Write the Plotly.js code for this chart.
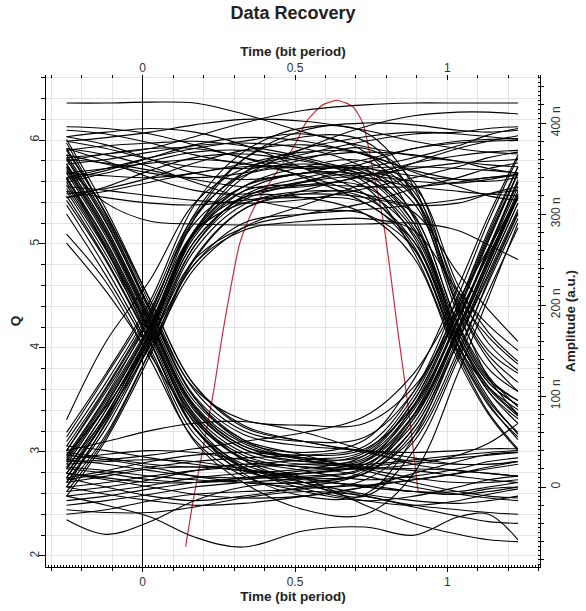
<!DOCTYPE html>
<html>
<head>
<meta charset="utf-8">
<script src="https://cdn.plot.ly/plotly-3.0.1.min.js"></script>
<style>
  html, body { margin: 0; padding: 0; background: #fff; }
  #chart { width: 586px; height: 611px; }
</style>
</head>
<body>
<div id="chart"></div>
<script>
// ---- Data ----
// Sample times (bit period) shared by every eye trace
const eyeTime = [-0.25, -0.12, 0.025, 0.17, 0.33, 0.53, 0.73, 0.89, 1.035, 1.135, 1.232];

// Amplitude (n a.u.) of each trace at eyeTime, grouped by bit pattern
const eyeHHH = [
  [422, 422, 423, 422, 410, 390, 374, 364, 358, 354, 352],
  [362, 366, 372, 385, 400, 414, 420, 422, 422, 422, 422],
  [385, 376, 360, 345, 338, 345, 360, 372, 378, 380, 381],
  [338, 348, 362, 376, 384, 380, 365, 348, 338, 336, 340],
  [372, 358, 340, 326, 322, 335, 356, 372, 380, 382, 383],
  [322, 328, 340, 356, 370, 376, 366, 346, 330, 320, 315],
  [352, 312, 292, 289, 288, 288, 289, 290, 282, 266, 250],
  [396, 394, 388, 376, 362, 352, 352, 362, 375, 387, 394],
  [318, 330, 348, 362, 366, 358, 344, 336, 334, 338, 344],
  [360, 356, 348, 338, 330, 330, 342, 356, 364, 368, 370],
  [345, 350, 356, 360, 356, 342, 322, 310, 312, 322, 330],
  [380, 384, 390, 398, 404, 402, 392, 380, 372, 368, 366],
  [330, 326, 320, 315, 312, 316, 328, 340, 352, 362, 368]
];
const eyeHHL = [
  [355, 360, 368, 375, 378, 372, 350, 300, 180, 122, 88],
  [380, 372, 360, 352, 350, 355, 345, 290, 165, 105, 70],
  [335, 345, 358, 368, 370, 360, 335, 275, 158, 98, 58],
  [392, 388, 378, 365, 355, 350, 348, 312, 198, 140, 105],
  [345, 342, 340, 345, 355, 368, 365, 325, 215, 158, 128],
  [370, 375, 378, 380, 375, 362, 340, 285, 170, 115, 90],
  [318, 325, 335, 345, 352, 350, 330, 258, 145, 82, 42],
  [365, 355, 345, 340, 345, 360, 372, 335, 210, 165, 135],
  [340, 350, 362, 372, 380, 388, 368, 296, 175, 118, 95],
  [385, 390, 394, 390, 376, 350, 322, 265, 155, 108, 78],
  [325, 318, 312, 310, 315, 322, 318, 302, 235, 195, 160],
  [358, 366, 372, 372, 362, 340, 312, 270, 165, 110, 80],
  [372, 365, 352, 335, 318, 305, 300, 262, 150, 92, 52]
];
const eyeLHH = [
  [20, 85, 170, 280, 345, 372, 385, 390, 388, 385, 382],
  [5, 70, 160, 265, 320, 340, 350, 352, 350, 348, 345],
  [40, 105, 185, 295, 360, 392, 400, 398, 392, 390, 392],
  [-10, 52, 145, 250, 305, 326, 342, 350, 356, 358, 360],
  [30, 95, 178, 282, 330, 345, 340, 330, 325, 322, 320],
  [74, 160, 228, 312, 350, 366, 380, 388, 390, 394, 396],
  [15, 75, 162, 250, 285, 300, 312, 328, 340, 350, 356],
  [45, 110, 192, 295, 345, 362, 368, 365, 358, 350, 345],
  [0, 58, 150, 240, 285, 310, 334, 356, 372, 380, 386],
  [25, 90, 175, 278, 325, 332, 330, 330, 335, 340, 342],
  [35, 88, 162, 245, 290, 300, 305, 310, 316, 322, 326],
  [10, 78, 172, 282, 340, 372, 396, 408, 412, 412, 410],
  [55, 122, 200, 298, 342, 352, 350, 342, 338, 340, 344]
];
const eyeLHL = [
  [20, 85, 172, 275, 325, 345, 340, 290, 170, 115, 90],
  [35, 100, 190, 300, 360, 385, 380, 320, 190, 130, 105],
  [5, 65, 158, 260, 310, 325, 318, 270, 155, 95, 60],
  [50, 115, 195, 290, 330, 345, 352, 318, 200, 145, 115],
  [10, 75, 165, 265, 315, 332, 330, 282, 165, 105, 75],
  [40, 108, 188, 280, 312, 318, 312, 262, 148, 90, 55],
  [-5, 55, 150, 252, 305, 322, 322, 278, 162, 110, 85],
  [28, 92, 176, 280, 330, 352, 358, 320, 205, 150, 125],
  [15, 80, 168, 270, 318, 335, 338, 298, 178, 120, 95],
  [60, 125, 205, 310, 368, 395, 390, 330, 195, 120, 80],
  [22, 78, 155, 245, 282, 292, 295, 282, 215, 178, 150],
  [0, 72, 168, 270, 318, 336, 345, 330, 222, 170, 138],
  [32, 98, 180, 280, 318, 318, 300, 252, 140, 80, 40]
];
const eyeLLL = [
  [20, 15, 8, 5, 8, 15, 20, 18, 12, 8, 5],
  [-5, 0, 8, 18, 25, 22, 12, 0, -8, -12, -15],
  [35, 30, 22, 12, 5, 0, 2, 8, 15, 22, 28],
  [-36, -52, -38, -15, 0, 5, 2, -5, -8, -2, 0],
  [10, 18, 28, 35, 38, 32, 20, 10, 5, 5, 8],
  [0, -8, -15, -20, -18, -10, 0, 8, 15, 20, 25],
  [25, 28, 30, 28, 20, 10, 0, -5, -8, -5, 0],
  [-15, -10, -2, 5, 10, 15, 22, 28, 32, 35, 38],
  [40, 50, 62, 70, 72, 60, 40, 25, 18, 15, 12],
  [-10, -20, -33, -55, -66, -48, -44, -53, -33, -30, -58],
  [30, 36, 40, 38, 30, 22, 20, 25, 35, 48, 70],
  [-25, -28, -28, -22, -12, -5, -10, -22, -32, -38, -40],
  [15, 8, 0, -8, -12, -10, 0, 15, 28, 36, 38]
];
const eyeLLH = [
  [15, 10, 5, 5, 10, 18, 25, 70, 170, 245, 320],
  [30, 25, 18, 12, 10, 12, 22, 80, 185, 260, 335],
  [-10, -5, 2, 10, 15, 20, 35, 95, 195, 275, 345],
  [5, 12, 20, 22, 18, 10, 15, 60, 160, 235, 305],
  [38, 32, 25, 22, 25, 30, 40, 100, 200, 282, 352],
  [-20, -15, -8, 0, 5, 10, 20, 65, 165, 240, 312],
  [22, 18, 12, 8, 5, 5, 18, 75, 175, 252, 325],
  [0, 5, 12, 18, 22, 25, 32, 85, 182, 262, 338],
  [45, 40, 32, 25, 18, 15, 28, 90, 192, 270, 345],
  [10, 0, -10, -15, -10, 0, 15, 55, 150, 225, 295],
  [28, 30, 35, 42, 50, 60, 78, 125, 205, 262, 318],
  [-30, -25, -15, -8, -5, -2, 8, 50, 145, 228, 300],
  [8, 15, 22, 28, 32, 35, 45, 105, 210, 292, 362]
];
const eyeHLL = [
  [335, 265, 170, 70, 22, -2, -15, -20, -15, -8, -2],
  [350, 280, 182, 88, 45, 30, 22, 20, 18, 15, 12],
  [320, 250, 160, 65, 25, 10, 0, -5, -5, 0, 5],
  [365, 295, 195, 100, 58, 45, 40, 32, 25, 25, 28],
  [310, 240, 152, 58, 18, 5, -8, -15, -18, -15, -10],
  [345, 275, 178, 84, 42, 28, 25, 30, 35, 38, 40],
  [278, 225, 140, 52, 12, -5, -15, -10, 0, 8, 12],
  [355, 285, 188, 94, 52, 35, 18, 5, -5, -10, -12],
  [328, 260, 168, 74, 32, 18, 8, 12, 20, 28, 32],
  [268, 215, 145, 72, 30, 10, -20, -40, -52, -58, -60],
  [372, 300, 205, 112, 68, 50, 38, 28, 25, 25, 28],
  [340, 262, 160, 64, 20, 2, -10, -20, -25, -28, -30],
  [382, 305, 205, 112, 66, 50, 40, 38, 40, 42, 42]
];
const eyeHLH = [
  [340, 270, 175, 80, 38, 25, 30, 80, 175, 250, 322],
  [355, 285, 185, 90, 48, 32, 35, 88, 182, 258, 330],
  [325, 255, 165, 65, 15, -10, -8, 55, 160, 240, 312],
  [362, 292, 192, 98, 52, 30, 25, 75, 170, 245, 318],
  [315, 248, 158, 64, 22, 8, 15, 65, 160, 232, 302],
  [348, 278, 180, 86, 42, 28, 38, 95, 195, 272, 345],
  [332, 262, 170, 76, 35, 22, 28, 78, 172, 248, 320],
  [370, 300, 200, 106, 62, 50, 55, 105, 200, 278, 352],
  [338, 268, 172, 78, 30, 5, -10, 40, 140, 215, 285],
  [352, 282, 183, 88, 45, 35, 42, 90, 185, 262, 335],
  [360, 290, 195, 108, 74, 68, 70, 110, 190, 255, 318],
  [300, 232, 148, 50, 5, -25, -30, 15, 125, 208, 290],
  [378, 298, 195, 98, 50, 38, 52, 118, 220, 298, 365]
];

// Q factor versus decision time (red curve)
const qTime = [0.141, 0.166, 0.199, 0.232, 0.264, 0.319, 0.362, 0.428, 0.484, 0.511, 0.538, 0.592, 0.641, 0.690, 0.723, 0.756, 0.789, 0.812, 0.834, 0.855, 0.877, 0.904];
const qValue = [2.09, 2.54, 3.05, 3.57, 4.17, 5.01, 5.33, 5.64, 5.88, 6.02, 6.18, 6.34, 6.38, 6.32, 6.16, 5.71, 5.23, 4.75, 4.24, 3.79, 3.31, 2.62];

// Axis tick labels
const timeTickVals = [0, 0.5, 1];
const timeTickText = ['0', '0.5', '1'];
const ampTickVals = [0, 100, 200, 300, 400];
const ampTickText = ['0', '100 n', '200 n', '300 n', '400 n'];

// ---- Chart ----
const FONT = 'Liberation Sans, Arial, sans-serif';
const xRange = [-0.3175, 1.3043];
const qRange = [1.894, 6.625];
const aRange = [-87.9, 452.8];

const traces = [];
[eyeHHH, eyeHHL, eyeLHH, eyeLHL, eyeLLL, eyeLLH, eyeHLL, eyeHLH].forEach(group => {
  group.forEach(vals => {
    traces.push({
      x: eyeTime, y: vals, xaxis: 'x', yaxis: 'y2',
      type: 'scatter', mode: 'lines',
      line: { color: '#000', width: 1.1, shape: 'spline', smoothing: 1 },
      hoverinfo: 'skip', showlegend: false
    });
  });
});
traces.push({
  x: qTime, y: qValue, xaxis: 'x', yaxis: 'y',
  type: 'scatter', mode: 'lines',
  line: { color: '#c8303a', width: 1.2, shape: 'spline', smoothing: 0.6 },
  hoverinfo: 'skip', showlegend: false
});
// helper traces so the overlay axes are drawn
traces.push({ x: [], y: [], xaxis: 'x2', yaxis: 'y', type: 'scatter', mode: 'lines', showlegend: false });
traces.push({ x: [], y: [], xaxis: 'x3', yaxis: 'y', type: 'scatter', mode: 'lines', showlegend: false });
traces.push({ x: [], y: [], xaxis: 'x', yaxis: 'y3', type: 'scatter', mode: 'lines', showlegend: false });

const tickFont = { family: FONT, size: 12, color: '#333' };
const titleFont = { family: FONT, size: 13.5, color: '#222', weight: 'bold' };

const layout = {
  width: 586, height: 611,
  margin: { l: 46, r: 46, t: 75, b: 44, pad: 0 },
  paper_bgcolor: '#fff', plot_bgcolor: '#fff',
  showlegend: false,
  hovermode: false,
  title: {
    text: 'Data Recovery',
    font: { family: FONT, size: 18, color: '#222', weight: 'bold' },
    x: 0.5, xanchor: 'center', y: 0.979, yanchor: 'middle', yref: 'container'
  },
  xaxis: {
    range: xRange, tickmode: 'array', tickvals: timeTickVals, ticktext: timeTickText,
    ticks: 'outside', ticklen: 4, tickcolor: '#000', tickwidth: 1,
    showgrid: true, gridcolor: '#e3e3e3', gridwidth: 1,
    minor: { tickmode: 'linear', tick0: 0, dtick: 0.1, ticks: 'outside', ticklen: 3, tickcolor: '#000', showgrid: true, gridcolor: '#e3e3e3', gridwidth: 1 },
    zeroline: true, zerolinecolor: '#000', zerolinewidth: 1,
    showline: true, linecolor: '#000', linewidth: 1, mirror: false,
    tickfont: tickFont,
    title: { text: 'Time (bit period)', font: titleFont, standoff: 2 }
  },
  xaxis2: {
    overlaying: 'x', side: 'top', anchor: 'y', range: xRange,
    tickmode: 'array', tickvals: timeTickVals, ticktext: timeTickText,
    ticks: 'inside', ticklen: 5, tickcolor: '#000',
    minor: { tickmode: 'linear', tick0: 0, dtick: 0.1, ticks: 'inside', ticklen: 3, tickcolor: '#000', showgrid: false },
    showgrid: false, zeroline: false, showline: false,
    tickfont: tickFont,
    title: { text: 'Time (bit period)', font: titleFont, standoff: 0 }
  },
  xaxis3: {
    overlaying: 'x', side: 'bottom', anchor: 'y', range: xRange,
    tickmode: 'linear', tick0: 0, dtick: 0.01, ticks: 'inside', ticklen: 2, tickcolor: '#000',
    showticklabels: false, showgrid: false, zeroline: false, showline: false
  },
  yaxis: {
    range: qRange, tickmode: 'linear', tick0: 0, dtick: 1,
    ticks: 'outside', ticklen: 6, tickcolor: '#000', tickangle: -90,
    ticklabelstandoff: -5,
    showgrid: true, gridcolor: '#e3e3e3', gridwidth: 1,
    minor: { tickmode: 'linear', tick0: 0, dtick: 0.2, ticks: 'outside', ticklen: 4, tickcolor: '#000', showgrid: true, gridcolor: '#e3e3e3', gridwidth: 1 },
    zeroline: false, showline: true, linecolor: '#000', linewidth: 1.5,
    tickfont: tickFont,
    title: { text: 'Q', font: titleFont, standoff: 4 }
  },
  yaxis2: {
    overlaying: 'y', side: 'right', anchor: 'x', range: aRange,
    tickmode: 'array', tickvals: ampTickVals, ticktext: ampTickText, tickangle: -90,
    ticks: 'outside', ticklen: 5, tickcolor: '#000',
    minor: { tickmode: 'linear', tick0: 0, dtick: 20, ticks: 'outside', ticklen: 3, tickcolor: '#000', showgrid: false },
    showgrid: false, zeroline: false, showline: true, linecolor: '#000', linewidth: 1,
    tickfont: tickFont,
    title: { text: 'Amplitude (a.u.)', font: titleFont, standoff: 2 }
  },
  yaxis3: {
    overlaying: 'y', side: 'right', anchor: 'x', range: aRange,
    tickmode: 'linear', tick0: 0, dtick: 5, ticks: 'inside', ticklen: 2, tickcolor: '#000',
    showticklabels: false, showgrid: false, zeroline: false, showline: false
  }
};

Plotly.newPlot('chart', traces, layout, { displayModeBar: false, staticPlot: true });
</script>
</body>
</html>
